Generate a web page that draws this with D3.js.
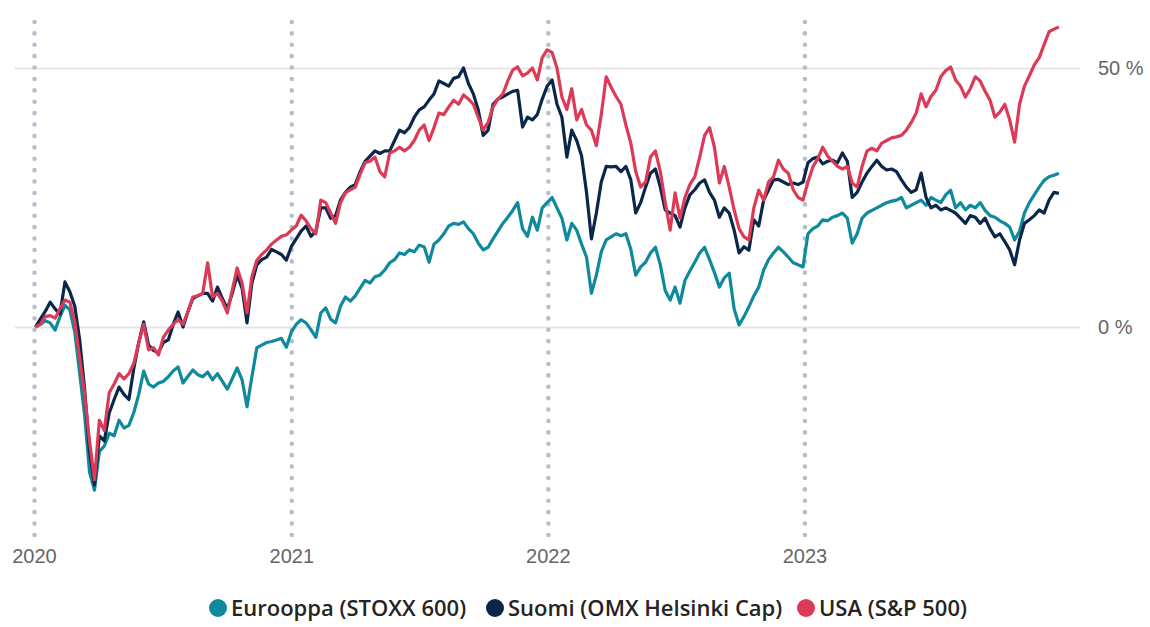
<!DOCTYPE html>
<html>
<head>
<meta charset="utf-8">
<script src="https://cdn.jsdelivr.net/npm/d3@7"></script>
<style>
  body { margin: 0; background: #fff; }
  svg { display: block; font-family: "Open Sans", "Noto Sans", sans-serif; }
</style>
</head>
<body>
<div id="output"></div>
<script>
// weekly closes, % change since start of 2020
const europe = [
  0, 0.5, 1.2, 0.8, -0.6, 2.0, 4.2, 3.3, -1.0, -9.0,
  -17, -28, -31.5, -24, -23, -20.5, -21, -18, -19.5, -19,
  -16.5, -13, -8.5, -11, -11.6, -10.8, -10.5, -9.6, -8.5, -7.7,
  -10.8, -9.5, -8.3, -9.2, -9.6, -8.7, -10.2, -9, -10.5, -12,
  -10, -7.9, -10.2, -15.4, -9.6, -4, -3.5, -3, -2.8, -2.5,
  -2.2, -3.9, -1.0,
  0.5, 1.4, 0.8, -0.5, -2.0, 2.7, 3.7, 1.5, 0.8, 4.0,
  5.8, 5.0, 6.0, 7.5, 9.0, 8.5, 9.7, 10.0, 11.0, 12.4,
  13.0, 14.3, 14.0, 14.9, 14.5, 15.8, 15.5, 12.5, 16.0, 16.8,
  18.0, 19.5, 20.0, 19.8, 20.3, 19.0, 18.0, 16.2, 14.9, 15.4,
  17.0, 18.5, 20.0, 21.2, 22.5, 24.0, 19.0, 17.5, 21.2, 18.7,
  23.0, 24.0,
  25.0, 23.0, 21.0, 16.8, 20.0, 18.7, 16.0, 13.5, 6.5, 10.0,
  14.5, 16.8, 17.4, 18.0, 17.6, 18.0, 15.0, 10.0, 11.6, 12.5,
  14.3, 15.4, 12.0, 7.0, 5.2, 7.7, 4.6, 9.0, 10.8, 12.5,
  14.3, 15.4, 13.0, 10.5, 7.7, 9.5, 10.4, 3.5, 0.4, 2.0,
  3.9, 6.0, 7.7, 11.0, 13.0, 14.3, 15.4, 14.5, 13.5, 12.4,
  12.0, 11.6,
  18.0, 19.0, 19.5, 20.7, 20.5, 21.2, 21.5, 22.0, 21.0, 16.2,
  18.0, 21.0, 22.0, 22.5, 23.0, 23.5, 24.0, 24.3, 24.5, 25.0,
  23.0, 23.5, 24.0, 24.5, 23.5, 25.0, 24.5, 24.0, 25.5, 26.4,
  23.0, 24.0, 22.6, 23.5, 23.0, 24.0, 22.5, 21.5, 21.2, 20.5,
  20.0, 19.3, 16.8, 18.5, 22.0, 24.0, 25.5, 27.0, 28.3, 29.0,
  29.3, 29.7
];

const finland = [
  0, 1.5, 3.0, 4.8, 3.5, 2.5, 8.7, 6.8, 4.0, -2.5,
  -12, -24, -30.5, -21, -22, -16.6, -14, -11.6, -13, -14,
  -8, -3, 1.0, -3.5, -4.5, -5.0, -3.0, -2.5, 0.5, 2.9,
  0.0, 3.0, 5.5, 6.0, 6.5, 6.5, 5.0, 7.7, 5.5, 3.5,
  6.5, 10.0, 7.5, 0.8, 8.5, 12.0, 13.0, 13.5, 15.0, 14.5,
  14.0, 12.9, 15.5,
  17.0, 18.5, 19.5, 17.5, 18.5, 23.0, 23.0, 21.0, 21.5, 24.5,
  26.0, 27.0, 27.5, 30.0, 32.0, 33.0, 34.0, 33.5, 34.0, 34.0,
  36.0, 38.0, 37.5, 38.5, 40.5, 41.9, 42.5, 43.8, 45.0, 47.5,
  47.0, 46.5, 48.0, 48.3, 50.0, 47.0, 45.0, 41.9, 37.0, 38.0,
  43.0, 44.0, 44.4, 45.0, 45.5, 45.7, 38.6, 40.5, 40.0, 41.0,
  44.0, 46.5,
  47.7, 43.0, 40.5, 32.8, 38.0, 36.0, 33.0, 26.0, 17.0, 22.0,
  28.0, 31.0, 30.9, 31.0, 30.0, 31.0, 28.4, 22.0, 24.0, 27.0,
  29.7, 30.5, 27.0, 22.6, 22.0, 21.5, 19.3, 23.0, 25.5, 26.5,
  27.8, 28.4, 26.0, 24.5, 21.2, 23.0, 22.0, 18.7, 14.3, 15.5,
  14.8, 20.7, 19.5, 24.5, 26.5, 28.4, 28.5, 28.0, 27.5, 27.8,
  27.5, 28.0,
  31.7, 32.5, 32.8, 31.5, 32.0, 32.2, 31.7, 33.6, 32.0, 25.0,
  26.0, 28.0, 29.7, 31.0, 32.2, 31.0, 30.3, 30.5, 30.0, 28.4,
  27.0, 26.0, 26.5, 29.7, 25.0, 23.0, 23.5, 22.6, 23.0, 22.5,
  22.0, 21.0, 20.0, 21.5, 21.2, 20.0, 21.0, 19.0, 17.4, 18.0,
  16.5, 14.9, 12.0, 16.8, 20.0, 20.7, 21.5, 22.6, 22.0, 24.5,
  26.0, 25.8
];

const usa = [
  0, 0.5, 2.0, 2.2, 1.7, 3.5, 5.2, 4.8, 1.0, -6.0,
  -13, -22, -29.5, -18, -20, -12.7, -11, -9.0, -10, -9.0,
  -7.0, -3, 0.5, -4.4, -4.0, -5.4, -2.0, -0.6, 0.5, 1.4,
  0.5, 3.0, 5.8, 6.0, 6.5, 12.4, 5.8, 6.5, 5.0, 2.7,
  7.1, 11.4, 8.5, 2.7, 9.7, 12.9, 14.0, 14.9, 16.0, 16.8,
  17.5, 17.8, 18.7,
  19.5, 21.6, 20.5, 19.0, 18.0, 24.5, 24.0, 22.0, 20.0, 24.0,
  25.9, 26.5, 27.0, 29.5, 31.7, 32.0, 32.8, 30.0, 29.0, 33.6,
  34.0, 34.7, 34.0, 34.7, 36.0, 38.0, 39.0, 36.0, 38.5, 41.3,
  41.0, 42.5, 43.8, 43.0, 44.8, 44.0, 43.0, 40.5, 38.0, 39.5,
  42.5, 44.0, 45.0, 47.5, 49.6, 50.2, 48.5, 49.0, 50.0, 47.7,
  52.0, 53.5,
  53.0, 50.0, 44.4, 42.0, 46.0, 40.0, 42.0, 39.0, 38.0, 35.0,
  41.0, 48.3, 46.3, 44.5, 43.0, 39.0, 35.5, 30.0, 27.0, 28.0,
  32.8, 34.0, 30.0, 24.0, 18.7, 25.9, 21.0, 25.0, 27.5, 29.0,
  32.8, 37.0, 38.5, 34.7, 27.8, 31.0, 27.0, 22.6, 19.0, 17.4,
  16.8, 23.0, 26.4, 24.5, 28.0, 29.0, 32.2, 30.5, 29.7, 26.5,
  25.0, 24.5,
  28.0, 30.9, 32.5, 34.7, 33.0, 32.0, 31.0, 30.5, 31.0, 27.8,
  27.0, 31.0, 34.0, 34.5, 34.0, 35.5, 36.0, 36.5, 36.7, 37.0,
  38.0, 39.5, 41.3, 45.0, 42.5, 44.5, 45.7, 48.3, 49.5, 50.2,
  47.7, 46.5, 44.4, 46.0, 48.3, 47.5, 45.5, 43.8, 40.5, 41.5,
  43.0, 40.0, 35.7, 43.0, 46.5, 48.5, 50.6, 52.0, 54.5, 57.0,
  57.5, 57.9
];

// one point per week, first Friday of 2020 onwards
const weeks = europe.map((_, i) => new Date(2020, 0, 3 + 7 * i));

const seriesNames = ["Eurooppa (STOXX 600)", "Suomi (OMX Helsinki Cap)", "USA (S&P 500)"];
const seriesColors = ["#0f899c", "#0a2749", "#dc3a56"];
const yearTicks = [2020, 2021, 2022, 2023];
const pctTicks = [0, 50];

const width = 1150, height = 627;

const svg = d3.select("#output").append("svg")
  .attr("width", width)
  .attr("height", height);

// scales
const x = d3.scaleTime()
  .domain([new Date(2020, 0, 1), new Date(2024, 0, 1)])
  .range([34, 1061]);

const y = d3.scaleLinear()
  .domain([0, 50])
  .range([327, 68]);

// horizontal gridlines + right axis labels
const yAxis = svg.append("g")
  .attr("transform", "translate(1080,0)")
  .call(d3.axisLeft(y).tickValues(pctTicks).tickSize(1065).tickFormat(d => d + " %"));
yAxis.select(".domain").remove();
yAxis.selectAll("line").attr("stroke", "#e5e5e5").attr("stroke-width", 2);
yAxis.selectAll("text")
  .attr("x", 18)
  .attr("text-anchor", "start")
  .attr("fill", "#666")
  .style("font-size", "20px");

// dotted year lines + year labels
const xAxis = svg.append("g")
  .attr("transform", "translate(0,535)")
  .call(d3.axisTop(x)
    .tickValues(yearTicks.map(yr => new Date(yr, 0, 1)))
    .tickSize(522)
    .tickFormat(d3.timeFormat("%Y")));
xAxis.select(".domain").remove();
xAxis.selectAll("line")
  .attr("stroke", "#b4bfcb")
  .attr("stroke-width", 4.5)
  .attr("stroke-linecap", "round")
  .attr("stroke-dasharray", "0.1 11.3");
xAxis.selectAll("text")
  .attr("y", 28)
  .attr("dy", "0")
  .attr("fill", "#666")
  .style("font-size", "20px");

// lines
const line = d3.line()
  .x((d, i) => x(weeks[i]))
  .y(d => y(d));

[europe, finland, usa].forEach((values, k) => {
  svg.append("path")
    .datum(values)
    .attr("fill", "none")
    .attr("stroke", seriesColors[k])
    .attr("stroke-width", 3.2)
    .attr("stroke-linejoin", "round")
    .attr("d", line);
});

// legend
const legend = svg.append("g").attr("transform", "translate(0,608)");
const legendX = [218, 495, 806];
seriesNames.forEach((name, k) => {
  const g = legend.append("g").attr("transform", `translate(${legendX[k]},0)`);
  g.append("circle").attr("r", 9).attr("fill", seriesColors[k]);
  g.append("text")
    .attr("x", 13)
    .attr("dy", "0.35em")
    .attr("fill", "#252423")
    .style("font-size", "22px")
    .style("font-weight", 600)
    .text(name);
});
</script>
</body>
</html>
